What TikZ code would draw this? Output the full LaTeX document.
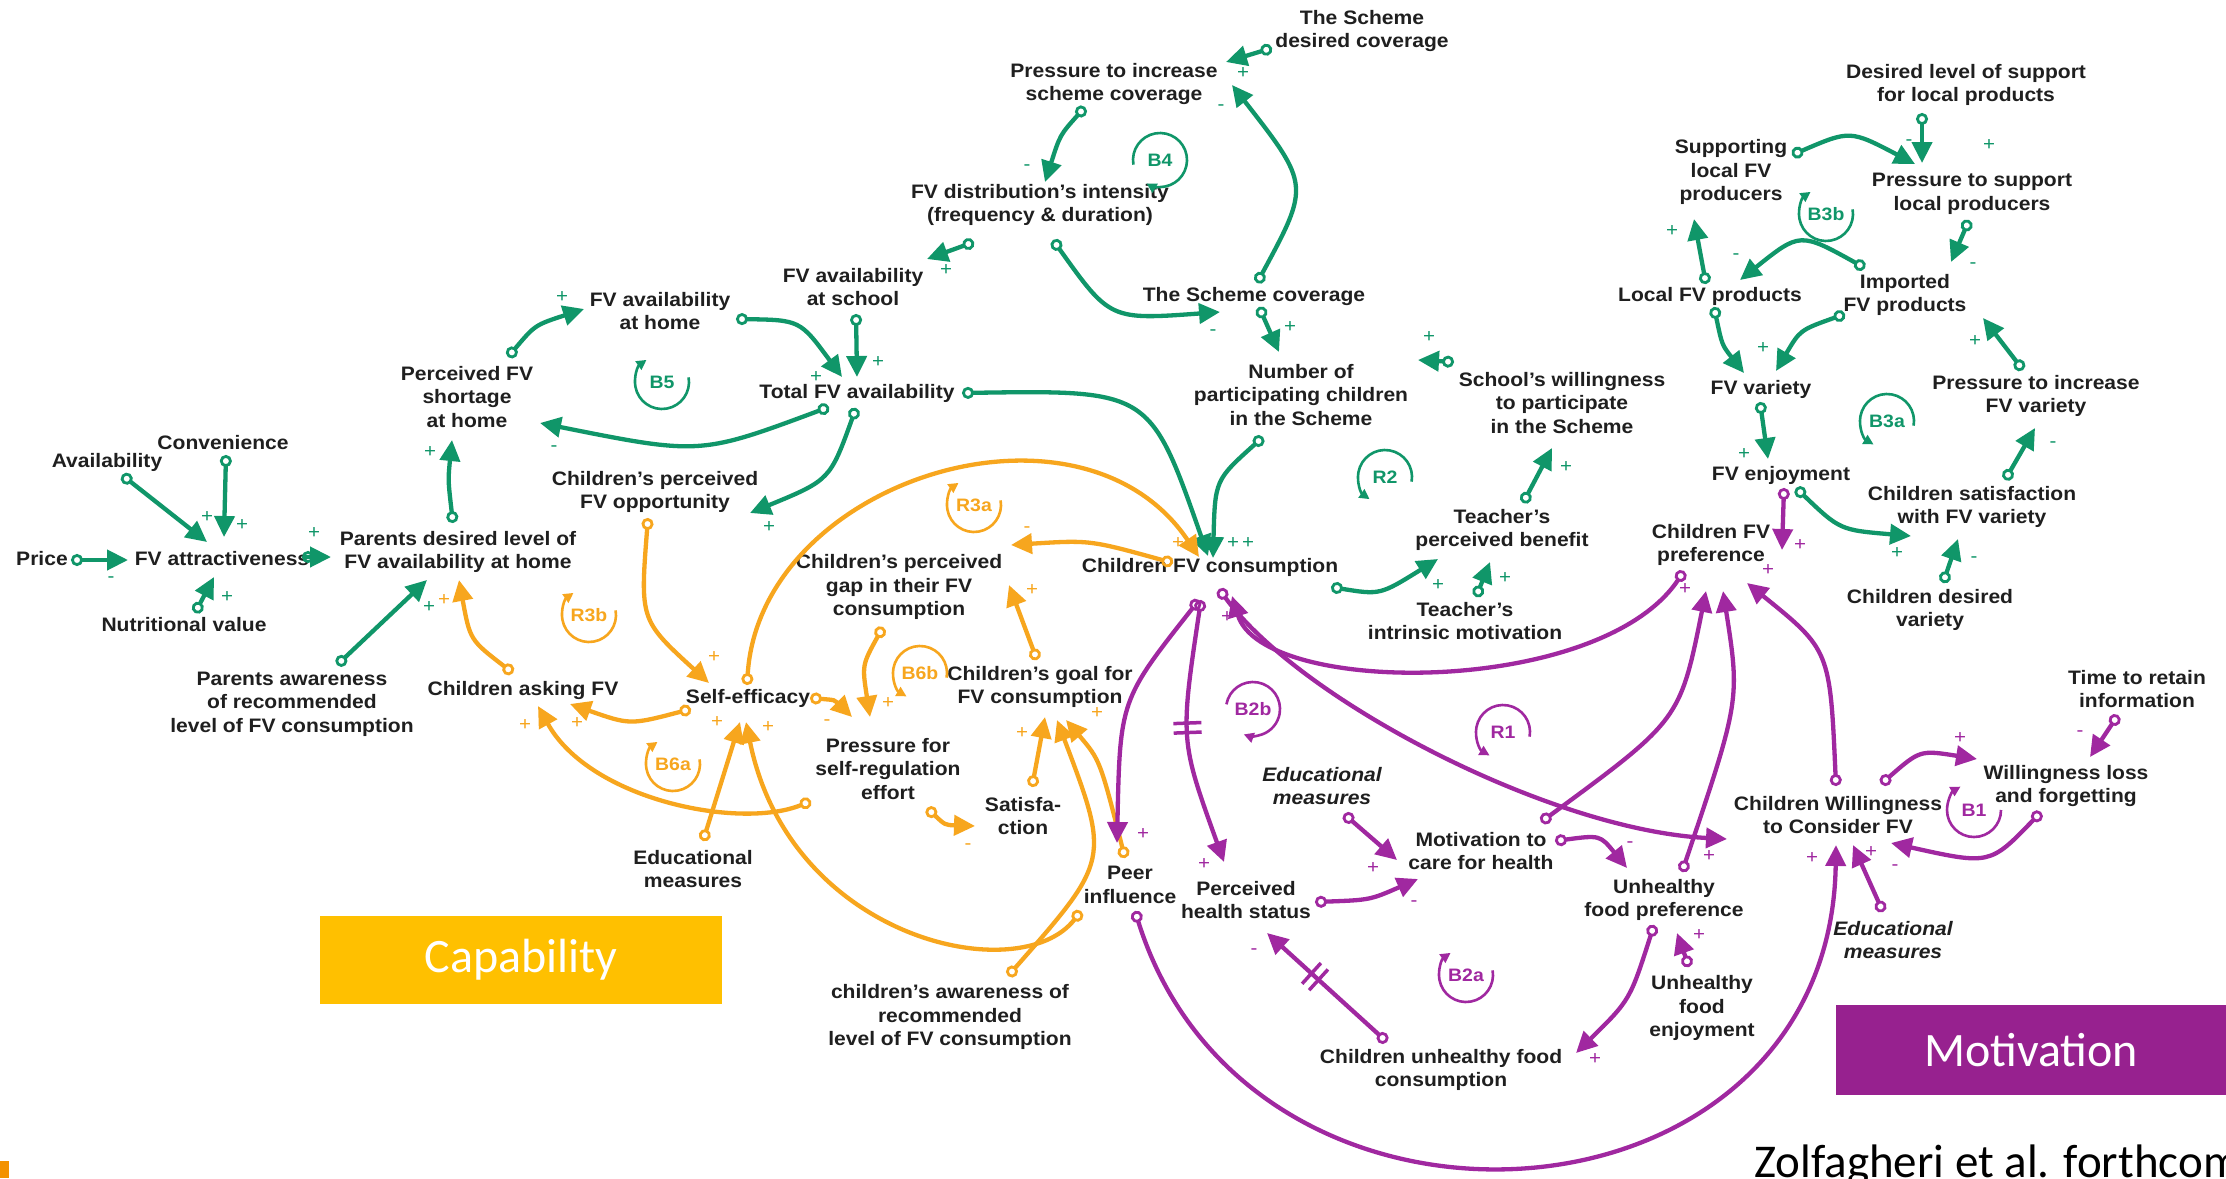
\documentclass[tikz,border=0pt]{standalone}
\usepackage{fontspec}
\setmainfont{Liberation Sans}[FakeStretch=1.08]
\newfontfamily\calib{Carlito}
\usetikzlibrary{arrows.meta,calc}
\definecolor{cg}{RGB}{16,150,105}
\definecolor{co}{RGB}{247,166,30}
\definecolor{cp}{RGB}{160,40,160}
\definecolor{motv}{RGB}{151,33,143}
\definecolor{capb}{RGB}{255,192,0}
\definecolor{sqc}{RGB}{243,146,0}
\tikzset{
 v/.style={align=center, inner sep=0pt, font=\bfseries\fontsize{19.5}{23.5}\selectfont, text=black!88},
 vi/.style={align=center, inner sep=0pt, font=\bfseries\itshape\fontsize{19.5}{23.5}\selectfont, text=black!88},
 lk/.style={line width=4.3pt, {Circle[open,length=12pt,width=12pt,line width=2.8pt]}-{Triangle[length=21pt,width=20pt]}},
 gl/.style={lk, draw=cg}, ol/.style={lk, draw=co}, pl/.style={lk, draw=cp},
 sgn/.style={inner sep=0pt, font=\fontsize{19}{19}\selectfont},
 looplab/.style={inner sep=0pt, font=\bfseries\fontsize{18}{18}\selectfont},
 delay/.style={inner sep=0pt, sloped, text=cp},
 boxlab/.style={inner sep=0pt, text=white, font=\calib\fontsize{48}{48}\selectfont},
}
\newcommand\fbloop[7]{%
 \node[looplab, text=#5] (#1) at (#2,#3) {#4};
 \begin{scope}[shift={(#2,#3)}, yscale=-1]
  \draw[#5, line width=2.6pt, -{Triangle[length=10pt,width=10pt]}] (#6:27) arc[start angle=#6, end angle=#7, radius=27];
 \end{scope}}
\begin{document}
\begin{tikzpicture}[x=1pt,y=-1pt]
\useasboundingbox (0,0) rectangle (2226,1178);
\clip (0,0) rectangle (2226,1178);
\fill[white] (0,0) rectangle (2226,1178);

% ---------- boxes ----------
\fill[capb] (320,916) rectangle (722,1004);
\node[boxlab] (capab) at (521,960) {Capability};
\fill[motv] (1836,1005) rectangle (2226,1095);
\node[boxlab] (motivb) at (2031,1050) {Motivation};
\fill[sqc] (0,1161) rectangle (9,1178);
\node[inner sep=0pt, anchor=base west, font=\calib\fontsize{47}{47}\selectfont] (cite) at (1754,1177) {Zolfagheri et al. forthcoming};

% ---------- variables ----------
\node[v] (avail) at (107,462) {Availability};
\node[v] (conv) at (223,443) {Convenience};
\node[v] (price) at (42,559) {Price};
\node[v] (attr) at (222,559) {FV attractiveness};
\node[v] (nutr) at (184,625) {Nutritional value};
\node[v] (pdes) at (458,552) {Parents desired level of\\FV availability at home};
\node[v] (short) at (467,397) {Perceived FV\\shortage\\at home};
\node[v] (paware) at (292,704) {Parents awareness\\of recommended\\level of FV consumption};
\node[v] (avhome) at (660,311) {FV availability\\at home};
\node[v] (avschool) at (853,287) {FV availability\\at school};
\node[v] (total) at (857,393) {Total FV availability};
\node[v] (opport) at (655,492) {Children's perceived\\FV opportunity};
\node[v] (dist) at (1040,205) {FV distribution's intensity\\(frequency \& duration)};
\node[v] (presscov) at (1114,84) {Pressure to increase\\scheme coverage};
\node[v] (desiredcov) at (1362,31) {The Scheme\\desired coverage};
\node[v] (coverage) at (1254,296) {The Scheme coverage};
\node[v] (number) at (1301,395) {Number of\\participating children\\in the Scheme};
\node[v] (school) at (1562,403) {School's willingness\\to participate\\in the Scheme};
\node[v] (tbenefit) at (1502,530) {Teacher's\\perceived benefit};
\node[v] (tintr) at (1465,621) {Teacher's\\intrinsic motivation};
\node[v] (cfvc) at (1210,567) {Children FV consumption};
\node[v] (dsupport) at (1966,85) {Desired level of support\\for local products};
\node[v] (supp) at (1731,172) {Supporting\\local FV\\producers};
\node[v] (presssup) at (1972,194) {Pressure to support\\local producers};
\node[v] (local) at (1710,296) {Local FV products};
\node[v] (imported) at (1905,295) {Imported\\FV products};
\node[v] (variety) at (1761,389) {FV variety};
\node[v] (pressvar) at (2036,396) {Pressure to increase\\FV variety};
\node[v] (enjoy) at (1781,475) {FV enjoyment};
\node[v] (satvar) at (1972,507) {Children satisfaction\\with FV variety};
\node[v] (desvar) at (1930,610) {Children desired\\variety};
\node[v] (asking) at (523,690) {Children asking FV};
\node[v] (selfeff) at (748,698) {Self-efficacy};
\node[v] (edu1) at (693,869) {Educational\\measures};
\node[v] (pressreg) at (888,769) {Pressure for\\self-regulation\\effort};
\node[v] (goal) at (1040,687) {Children's goal for\\FV consumption};
\node[v] (satis) at (1023,816) {Satisfa-\\ction};
\node[v] (peer) at (1130,885) {Peer\\influence};
\node[v] (gap) at (899,587) {Children's perceived\\gap in their FV\\consumption};
\node[v] (aware) at (950,1017) {children's awareness of\\recommended\\level of FV consumption};
\node[v] (health) at (1246,900) {Perceived\\health status};
\node[v] (pref) at (1711,545) {Children FV\\preference};
\node[v] (retain) at (2137,689) {Time to retain\\information};
\node[v] (loss) at (2066,786) {Willingness loss\\and forgetting};
\node[v] (will) at (1838,815) {Children Willingness\\to Consider FV};
\node[vi] (edu3) at (1893,940) {Educational\\measures};
\node[vi] (edu2) at (1322,786) {Educational\\measures};
\node[v] (motiv) at (1481,851) {Motivation to\\care for health};
\node[v] (unpref) at (1664,900) {Unhealthy\\food preference};
\node[v] (unenj) at (1702,1008) {Unhealthy\\food\\enjoyment};
\node[v] (uncons) at (1441,1070) {Children unhealthy food\\consumption};

% ---------- green links ----------
\draw[gl] ($(price)+(29,1)$) -- ($(attr)+(-94,1)$);
\draw[gl] ($(avail)+(15,13)$) -- ($(attr)+(-15,-17)$);
\draw[gl] ($(conv)+(3,12)$) -- ($(attr)+(2,-22)$);
\draw[gl] ($(nutr)+(11,-12)$) -- ($(attr)+(-8,18)$);
\draw[gl] ($(attr)+(92,-2)$) -- ($(pdes)+(-127,5)$);
\draw[gl] ($(pdes)+(-5,-29)$) .. controls (448,480) .. ($(short)+(-15,43)$);
\draw[gl] ($(paware)+(45,-39)$) -- ($(pdes)+(-31,28)$);
\draw[gl] ($(short)+(41,-40)$) .. controls (535,325) .. ($(avhome)+(-76,-2)$);
\draw[gl] ($(avhome)+(76,8)$) .. controls (800,320) .. ($(total)+(-15,-16)$);
\draw[gl] ($(avschool)+(3,27)$) -- ($(total)+(0,-16)$);
\draw[gl] ($(total)+(-28,14)$) .. controls (700,455) .. ($(short)+(73,26)$);
\draw[gl] ($(total)+(-1,15)$) .. controls (830,480) .. ($(opport)+(95,21)$);
\draw[gl] ($(dist)+(-66,37)$) -- ($(avschool)+(74,-28)$);
\draw[gl] ($(presscov)+(-29,23)$) .. controls (1060,135) .. ($(dist)+(5,-23)$);
\draw[gl] ($(dist)+(13,35)$) .. controls (1110,320) .. ($(coverage)+(-34,16)$);
\draw[gl] ($(coverage)+(3,-13)$) .. controls (1310,185) .. ($(presscov)+(118,1)$);
\draw[gl] ($(desiredcov)+(-90,17)$) -- ($(presscov)+(112,-22)$);
\draw[gl] ($(coverage)+(5,11)$) -- ($(number)+(-22,-43)$);
\draw[gl] ($(number)+(-38,42)$) .. controls (1215,480) .. ($(cfvc)+(3,-9)$);
\draw[gl] ($(total)+(105,0)$) .. controls (1150,390) .. ($(cfvc)+(-2,-11)$);
\draw[gl] ($(cfvc)+(121,20)$) .. controls (1380,595) .. ($(tbenefit)+(-64,29)$);
\draw[gl] ($(tintr)+(11,-24)$) -- ($(tbenefit)+(-12,32)$);
\draw[gl] ($(tbenefit)+(21,-27)$) -- ($(school)+(-10,45)$);
\draw[gl] ($(school)+(-108,-41)$) -- ($(number)+(117,-35)$);
\draw[gl] ($(dsupport)+(-44,28)$) -- ($(presssup)+(-50,-31)$);
\draw[gl] ($(supp)+(61,-17)$) .. controls (1850,130) .. ($(presssup)+(-57,-30)$);
\draw[gl] ($(presssup)+(-3,26)$) -- ($(imported)+(46,-33)$);
\draw[gl] ($(imported)+(-40,-27)$) .. controls (1800,232) .. ($(local)+(30,-16)$);
\draw[gl] ($(local)+(-4,-12)$) -- ($(supp)+(-37,47)$);
\draw[gl] ($(local)+(4,11)$) .. controls (1722,345) .. ($(variety)+(-17,-16)$);
\draw[gl] ($(imported)+(-60,19)$) .. controls (1800,330) .. ($(variety)+(15,-18)$);
\draw[gl] ($(variety)+(-1,13)$) -- ($(enjoy)+(-13,-16)$);
\draw[gl] ($(enjoy)+(15,13)$) .. controls (1840,530) .. ($(satvar)+(-61,29)$);
\draw[gl] ($(desvar)+(13,-27)$) -- ($(satvar)+(-14,32)$);
\draw[gl] ($(satvar)+(33,-27)$) -- ($(pressvar)+(-1,32)$);
\draw[gl] ($(pressvar)+(-13,-26)$) -- ($(imported)+(78,23)$);

% ---------- orange links ----------
\draw[ol] ($(asking)+(-10,-17)$) .. controls (470,640) .. ($(pdes)+(1,28)$);
\draw[ol] ($(selfeff)+(-57,11)$) .. controls (630,725) .. ($(asking)+(47,14)$);
\draw[ol] ($(pressreg)+(-77,32)$) .. controls (740,830) and (590,800) .. ($(asking)+(15,16)$);
\draw[ol] ($(opport)+(-7,26)$) .. controls (640,620) .. ($(selfeff)+(-39,-15)$);
\draw[ol] ($(selfeff)+(-1,-13)$) .. controls (760,480) and (1080,380) .. ($(cfvc)+(-11,-10)$);
\draw[ol] ($(cfvc)+(-37,-4)$) .. controls (1090,540) .. ($(gap)+(112,-42)$);
\draw[ol] ($(goal)+(-3,-27)$) -- ($(gap)+(110,-2)$);
\draw[ol] ($(gap)+(-16,40)$) .. controls (862,665) .. ($(pressreg)+(-18,-52)$);
\draw[ol] ($(selfeff)+(62,0)$) .. controls (835,700) .. ($(pressreg)+(-36,-52)$);
\draw[ol] ($(pressreg)+(39,39)$) .. controls (945,825) .. ($(satis)+(-48,10)$);
\draw[ol] ($(satis)+(9,-29)$) -- ($(goal)+(5,30)$);
\draw[ol] ($(peer)+(-5,-27)$) .. controls (1100,760) .. ($(goal)+(26,33)$);
\draw[ol] ($(aware)+(58,-41)$) .. controls (1110,860) .. ($(goal)+(17,33)$);
\draw[ol] ($(peer)+(-49,26)$) .. controls (1020,990) and (790,940) .. ($(selfeff)+(-2,24)$);
\draw[ol] ($(edu1)+(10,-28)$) -- ($(selfeff)+(-8,24)$);

% ---------- purple links ----------
\draw[pl] ($(enjoy)+(3,13)$) -- ($(pref)+(71,5)$);
\draw[pl] ($(pref)+(-27,26)$) .. controls (1600,697) and (1263,697) .. ($(cfvc)+(22,29)$);
\draw[pl] ($(cfvc)+(-11,33)$) .. controls (1120,700) .. ($(peer)+(-13,-42)$);
\draw[pl] ($(cfvc)+(-9,33)$) .. controls (1180,740) .. node[delay, pos=0.45] (d1) {\rule[-14pt]{3.5pt}{28pt}\hspace{6pt}\rule[-14pt]{3.5pt}{28pt}} ($(health)+(-22,-38)$);
\draw[pl] ($(cfvc)+(9,22)$) .. controls (1300,700) and (1550,830) .. ($(will)+(-111,24)$);
\draw[pl] ($(motiv)+(60,-29)$) .. controls (1680,720) .. ($(pref)+(-5,46)$);
\draw[pl] ($(unpref)+(18,-28)$) .. controls (1740,700) .. ($(pref)+(12,46)$);
\draw[pl] ($(will)+(-2,-29)$) .. controls (1830,650) .. ($(pref)+(36,38)$);
\draw[pl] ($(will)+(43,-31)$) .. controls (1920,750) .. ($(loss)+(-89,-27)$);
\draw[pl] ($(retain)+(-19,26)$) -- ($(loss)+(24,-29)$);
\draw[pl] ($(loss)+(-25,26)$) .. controls (1990,865) .. ($(will)+(53,28)$);
\draw[pl] ($(edu3)+(-10,-28)$) -- ($(will)+(15,30)$);
\draw[pl] ($(peer)+(5,26)$) .. controls (1250,1280) and (1830,1240) .. ($(will)+(-2,30)$);
\draw[pl] ($(motiv)+(74,-10)$) .. controls (1600,835) .. ($(unpref)+(-37,-32)$);
\draw[pl] ($(edu2)+(22,28)$) -- ($(motiv)+(-84,9)$);
\draw[pl] ($(health)+(69,2)$) .. controls (1370,900) .. ($(motiv)+(-63,28)$);
\draw[pl] ($(uncons)+(-54,-28)$) -- node[delay, pos=0.6] (d2) {\rule[-14pt]{3.5pt}{28pt}\hspace{6pt}\rule[-14pt]{3.5pt}{28pt}} ($(health)+(21,33)$);
\draw[pl] ($(unpref)+(-10,25)$) .. controls (1630,1000) .. ($(uncons)+(135,-17)$);
\draw[pl] ($(unenj)+(-13,-41)$) -- ($(unpref)+(13,33)$);

% ---------- polarity signs ----------
\foreach \x/\y/\s [count=\i] in {111/580/-,207/517/+,242/525/+,227/597/+,314/533/+,430/452/+,429/607/+,562/297/+,816/377/+,878/362/+,554/449/-,769/527/+,946/270/+,1027/168/-,1213/333/-,1221/108/-,1243/73/+,1290/327/+,1233/543/+,1248/543/+,1438/585/+,1505/578/+,1566/467/+,1429/337/+,1989/145/+,1909/143/-,1973/266/-,1736/257/-,1672/231/+,1763/348/+,1744/454/+,1897/553/+,1974/560/-,2053/445/-,1975/341/+}
  \node[sgn, text=cg] (sg\i) at (\x,\y) {\s};
\foreach \x/\y/\s [count=\i] in {444/600/+,577/723/+,525/725/+,714/657/+,1178/543/+,1027/530/-,1032/590/+,888/703/+,827/723/-,968/847/-,1022/733/+,768/727/+,717/722/+,1097/713/+}
  \node[sgn, text=co] (so\i) at (\x,\y) {\s};
\foreach \x/\y/\s [count=\i] in {1800/545/+,1227/617/+,1143/834/+,1204/864/+,1709/856/+,1685/589/+,1768/570/+,1960/738/+,2080/734/-,1895/868/-,1871/852/+,1812/858/+,1630/845/-,1373/868/+,1414/904/-,1254/952/-,1595/1059/+,1699/935/+}
  \node[sgn, text=cp] (sp\i) at (\x,\y) {\s};

% ---------- loop markers ----------
\fbloop{lB5}{662}{382}{B5}{cg}{10}{-235}
\fbloop{lB4}{1160}{160}{B4}{cg}{190}{-120}
\fbloop{lR2}{1385}{477}{R2}{cg}{-10}{235}
\fbloop{lB3b}{1826}{214}{B3b}{cg}{10}{-235}
\fbloop{lB3a}{1887}{421}{B3a}{cg}{-10}{240}
\fbloop{lR3a}{974}{505}{R3a}{co}{10}{-235}
\fbloop{lR3b}{589}{615}{R3b}{co}{10}{-235}
\fbloop{lB6a}{673}{764}{B6a}{co}{10}{-235}
\fbloop{lB6b}{920}{673}{B6b}{co}{-10}{240}
\fbloop{lB2b}{1253}{709}{B2b}{cp}{170}{-110}
\fbloop{lR1}{1503}{732}{R1}{cp}{-10}{240}
\fbloop{lB2a}{1466}{975}{B2a}{cp}{10}{-235}
\fbloop{lB1}{1974}{810}{B1}{cp}{0}{-240}
\end{tikzpicture}
\end{document}
